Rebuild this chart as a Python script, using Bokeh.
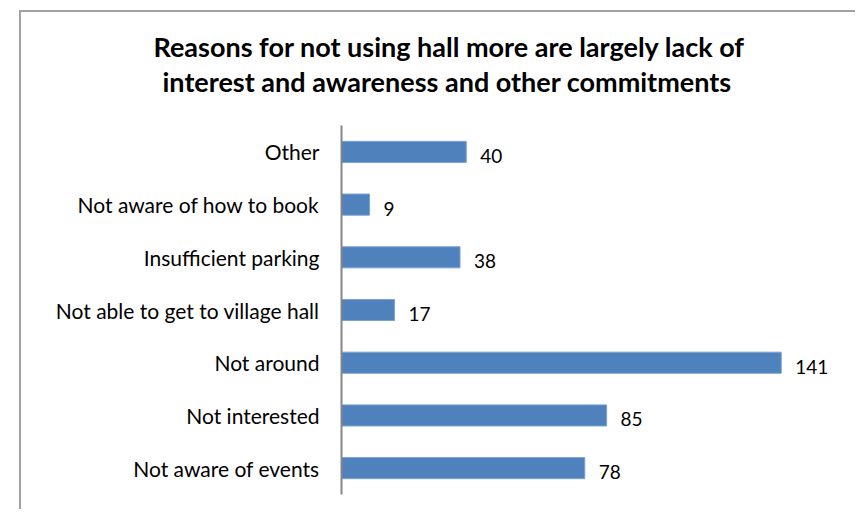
from bokeh.plotting import figure
from bokeh.models import Range1d, Title, ColumnDataSource, FixedTicker
from bokeh.core.properties import value
from bokeh.embed import file_html
from bokeh.resources import INLINE

title_lines = ["Reasons for not using hall more are largely lack of",
               "interest and awareness and other commitments"]
categories = ["Other", "Not aware of how to book", "Insufficient parking",
              "Not able to get to village hall", "Not around", "Not interested",
              "Not aware of events"]
counts = [40, 9, 38, 17, 141, 85, 78]
labels = [str(c) for c in counts]

FONT = "Lato"
n = len(categories)
# category slots counted from the bottom (first category at the top)
ypos = [n - i - 0.5 for i in range(n)]
src = ColumnDataSource(dict(y=ypos, val=counts, lab=labels))

p = figure(width=836, height=499, title=None,
           y_range=Range1d(0, 7.532),
           x_range=Range1d(0, 160),
           x_axis_location=None,
           output_backend="svg", toolbar_location=None,
           min_border_left=320, min_border_right=17,
           min_border_top=85, min_border_bottom=17,
           styles={"margin-left": "19px", "margin-top": "10px",
                   "border-left": "2px solid #a0a0a0",
                   "border-top": "2px solid #a0a0a0"})
p.outline_line_color = None
p.xgrid.visible = False
p.ygrid.visible = False

p.hbar(y="y", right="val", left=0, height=0.4, source=src,
       fill_color="#4F81BD", line_color="#7aa0d2", line_width=1)

p.text(x="val", y="y", text="lab", source=src, x_offset=14, y_offset=4,
       text_font=value(FONT), text_font_size="19px", text_color="#000000",
       text_baseline="middle", text_align="left")

ax = p.yaxis[0]
ax.bounds = (0, n)
ax.ticker = FixedTicker(ticks=ypos)
ax.major_label_overrides = {y: c for y, c in zip(ypos, categories)}
ax.axis_line_color = "#868686"
ax.axis_line_width = 2
ax.major_tick_line_color = None
ax.minor_tick_line_color = None
ax.major_tick_out = 0
ax.major_tick_in = 0
ax.major_label_standoff = 22
ax.major_label_text_font = FONT
ax.major_label_text_font_size = "21px"
ax.major_label_text_color = "#000000"

# two title lines: the one added first sits nearest the frame
for line, off in zip(reversed(title_lines), [-179, -188]):
    p.add_layout(Title(text=line, align="left", offset=off, standoff=0,
                       text_font=FONT, text_font_style="bold",
                       text_font_size="27px", text_color="#000000"), "above")

open("out.html", "w").write(file_html(p, INLINE))
